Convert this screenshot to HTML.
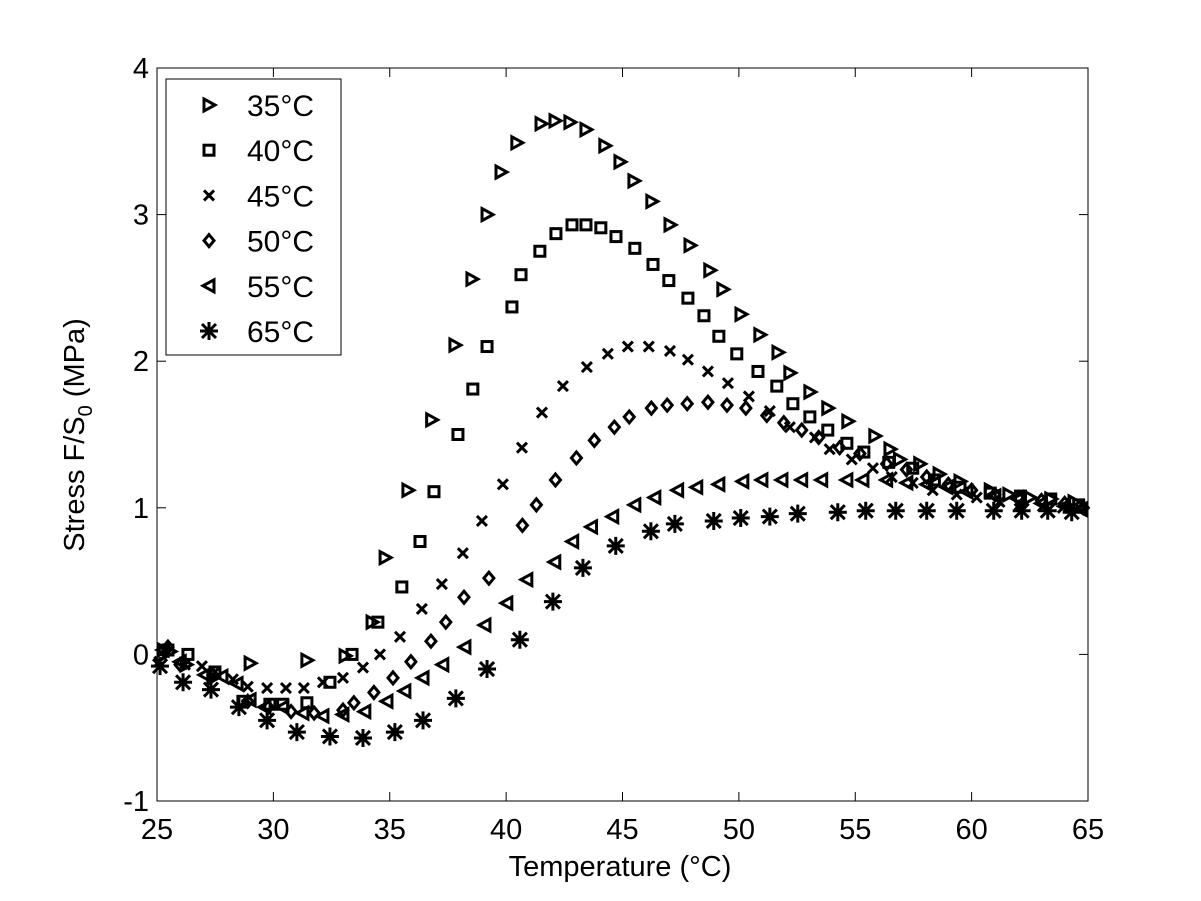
<!DOCTYPE html>
<html><head><meta charset="utf-8"><style>
body{margin:0;background:#fff}
svg{display:block;font-family:"Liberation Sans",sans-serif}
</style></head><body>
<svg id="chart" width="1201" height="901" viewBox="0 0 1201 901" xmlns="http://www.w3.org/2000/svg">
<rect width="1201" height="901" fill="#fff"/>
<g id="axes"></g>
<g id="marks"></g>
<g id="legend"></g>
<text x="620" y="876" font-size="29" text-anchor="middle">Temperature (°C)</text>
<text transform="translate(84,435) rotate(-90)" font-size="29" text-anchor="middle">Stress F/S<tspan font-size="20" dy="8">0</tspan><tspan dy="-8"> (MPa)</tspan></text>
</svg>
<script>
const xTicks=[25,30,35,40,45,50,55,60,65];
const yTicks=[-1,0,1,2,3,4];
const seriesNames=["35°C","40°C","45°C","50°C","55°C","65°C"];
const markerTypes=["tri-right","square","x","diamond","tri-left","star"];
const t35=[25.26,25.56,26.25,27.4,29.0,31.44,33.08,34.24,34.8,35.78,36.8,37.8,38.53,39.18,39.78,40.46,41.5,42.1,42.74,43.43,44.24,44.89,45.49,46.26,47.04,47.9,48.75,49.31,50.09,50.9,51.68,52.19,53.05,53.82,54.68,55.84,56.49,56.9,57.77,58.6,59.5,60.8,61.6,62.5,63.4,64.4];
const s35=[0.03,0.02,-0.07,-0.16,-0.06,-0.04,-0.01,0.22,0.66,1.12,1.60,2.11,2.56,3.0,3.29,3.49,3.62,3.64,3.63,3.58,3.47,3.36,3.23,3.09,2.93,2.79,2.62,2.49,2.32,2.18,2.06,1.92,1.79,1.68,1.59,1.49,1.40,1.33,1.30,1.23,1.18,1.12,1.09,1.07,1.06,1.04];
const t40=[25.47,26.33,27.49,28.69,29.85,30.4,31.44,32.43,33.38,34.49,35.52,36.3,36.9,37.93,38.57,39.18,40.25,40.64,41.45,42.14,42.83,43.43,44.07,44.72,45.53,46.31,46.99,47.81,48.5,49.14,49.91,50.82,51.63,52.32,53.05,53.82,54.64,55.37,56.44,57.47,58.4,59.5,60.8,62.1,63.4,64.6];
const s40=[0.03,0.0,-0.12,-0.32,-0.34,-0.34,-0.33,-0.19,0.0,0.22,0.46,0.77,1.11,1.50,1.81,2.10,2.37,2.59,2.75,2.87,2.93,2.93,2.91,2.85,2.77,2.66,2.55,2.43,2.31,2.17,2.05,1.93,1.83,1.71,1.62,1.53,1.44,1.38,1.31,1.27,1.19,1.14,1.10,1.08,1.06,1.02];
const t45=[25.1,26.2,26.93,27.49,28.26,28.9,29.73,30.54,31.31,32.13,32.99,33.85,34.58,35.44,36.38,37.24,38.14,38.96,39.86,40.68,41.54,42.44,43.47,44.37,45.23,46.13,47.04,47.81,48.67,49.53,50.43,51.33,52.19,53.27,53.9,54.85,55.76,56.57,57.47,58.33,59.36,60.22,61.2,62.07,63.06,63.92];
const s45=[-0.05,-0.07,-0.08,-0.12,-0.17,-0.22,-0.23,-0.23,-0.23,-0.19,-0.16,-0.09,0.0,0.12,0.31,0.48,0.69,0.91,1.16,1.41,1.65,1.83,1.96,2.05,2.10,2.10,2.07,2.01,1.93,1.85,1.76,1.66,1.55,1.48,1.40,1.33,1.27,1.21,1.17,1.12,1.09,1.07,1.04,1.02,1.01,1.00];
const t50=[25.47,25.99,27.4,28.9,29.78,30.76,31.75,32.99,33.46,34.32,35.14,35.91,36.77,37.41,38.19,39.26,40.7,41.3,42.12,43.02,43.79,44.65,45.29,46.24,46.92,47.78,48.67,49.49,50.3,51.2,51.93,52.7,53.43,54.33,55.2,56.35,57.2,58.07,59.0,60.0,61.0,62.0,63.0,64.0,64.8];
const s50=[0.05,-0.07,-0.14,-0.32,-0.36,-0.39,-0.40,-0.38,-0.33,-0.26,-0.16,-0.05,0.09,0.22,0.39,0.52,0.88,1.02,1.19,1.34,1.46,1.55,1.62,1.68,1.70,1.71,1.72,1.70,1.68,1.63,1.58,1.53,1.48,1.41,1.37,1.30,1.26,1.21,1.16,1.12,1.09,1.07,1.05,1.03,1.00];
const t55=[25.26,26.0,27.06,27.79,28.44,29.0,29.64,30.41,31.27,32.13,32.99,33.93,34.88,35.65,36.43,37.28,38.23,39.09,40.03,40.89,42.09,42.86,43.67,44.58,45.53,46.39,47.37,48.19,49.14,50.17,50.99,51.85,52.7,53.56,54.64,55.33,56.35,57.22,58.08,58.94,59.8,61.0,62.0,63.0,64.0,64.7];
const s55=[0.03,-0.05,-0.14,-0.15,-0.20,-0.31,-0.36,-0.36,-0.40,-0.42,-0.41,-0.39,-0.32,-0.25,-0.16,-0.07,0.05,0.2,0.35,0.51,0.63,0.77,0.87,0.94,1.02,1.07,1.12,1.14,1.16,1.18,1.19,1.19,1.19,1.19,1.19,1.19,1.19,1.17,1.16,1.14,1.11,1.08,1.06,1.03,1.01,0.99];
const t65=[25.13,26.12,27.32,28.52,29.73,31.01,32.43,33.85,35.22,36.43,37.84,39.18,40.59,42.01,43.3,44.71,46.22,47.25,48.92,50.08,51.33,52.53,54.25,55.45,56.74,58.07,59.36,60.95,62.15,63.27,64.3];
const s65=[-0.08,-0.19,-0.24,-0.36,-0.45,-0.53,-0.56,-0.57,-0.53,-0.45,-0.30,-0.10,0.10,0.36,0.59,0.74,0.84,0.89,0.91,0.93,0.94,0.96,0.97,0.98,0.98,0.98,0.98,0.98,0.98,0.98,0.97];

const NS="http://www.w3.org/2000/svg";
const X0=157,X1=1088,Y0=801,Y1=68,xMin=25,xMax=65,yMin=-1,yMax=4;
function xs(v){return X0+(v-xMin)/(xMax-xMin)*(X1-X0);}
function ys(v){return Y0-(v-yMin)/(yMax-yMin)*(Y0-Y1);}
function mk(tag,attrs,parent){const e=document.createElementNS(NS,tag);for(const k in attrs)e.setAttribute(k,attrs[k]);parent.appendChild(e);return e;}
const axes=document.getElementById('axes');
const frame=mk('rect',{x:X0,y:Y1,width:X1-X0,height:Y0-Y1,fill:'none',stroke:'#000','stroke-width':1},axes);


xTicks.forEach(v=>{
  const x=xs(v);
  mk('line',{x1:x,x2:x,y1:Y0,y2:Y0-9,stroke:'#000'},axes);
  mk('line',{x1:x,x2:x,y1:Y1,y2:Y1+9,stroke:'#000'},axes);
  const t=mk('text',{x:x,y:Y0+38,'font-size':29,'text-anchor':'middle'},axes);
  t.textContent=v;
  
  
});
yTicks.forEach(v=>{
  const y=ys(v);
  mk('line',{x1:X0,x2:X0+9,y1:y,y2:y,stroke:'#000'},axes);
  mk('line',{x1:X1,x2:X1-9,y1:y,y2:y,stroke:'#000'},axes);
  const t=mk('text',{x:X0-8,y:y+10,'font-size':29,'text-anchor':'end'},axes);
  t.textContent=v;
  
  
});
function marker(type,x,y,parent){
  const a={fill:'none',stroke:'#000','stroke-width':3};
  let e;
  if(type==='tri-right')e=mk('polygon',Object.assign({points:`${x-5},${y-6} ${x+6},${y} ${x-5},${y+6}`},a),parent);
  else if(type==='tri-left')e=mk('polygon',Object.assign({points:`${x+5},${y-6} ${x-6},${y} ${x+5},${y+6}`},a),parent);
  else if(type==='square')e=mk('rect',Object.assign({x:x-5,y:y-5,width:10,height:10},a),parent);
  else if(type==='diamond')e=mk('polygon',Object.assign({points:`${x},${y-6} ${x+5},${y} ${x},${y+6} ${x-5},${y}`},a),parent);
  else if(type==='x')e=mk('path',Object.assign({d:`M${x-5},${y-5}L${x+5},${y+5}M${x-5},${y+5}L${x+5},${y-5}`},a),parent);
  else e=mk('path',Object.assign({d:`M${x-9},${y}L${x+9},${y}M${x},${y-9}L${x},${y+9}M${x-7},${y-7}L${x+7},${y+7}M${x-7},${y+7}L${x+7},${y-7}`},a),parent);
  return e;
}
const marks=document.getElementById('marks');
const allT=[t35,t40,t45,t50,t55,t65],allS=[s35,s40,s45,s50,s55,s65];
allT.forEach((T,i)=>{
  const g=mk('g',{},marks);
  
  
  T.forEach((t,j)=>{
    const m=marker(markerTypes[i],xs(t),ys(allS[i][j]),g);
    
    
  });
});
const lg=document.getElementById('legend');
const box=mk('rect',{x:166,y:79,width:175,height:276,fill:'#fff',stroke:'#000','stroke-width':1},lg);


seriesNames.forEach((n,i)=>{
  const y=105+i*45.2;
  const g=mk('g',{},lg);
  
  
  marker(markerTypes[i],209,y,g);
  const t=mk('text',{x:247,y:y+11,'font-size':30},g);
  t.textContent=n;
});
</script>
</body></html>
